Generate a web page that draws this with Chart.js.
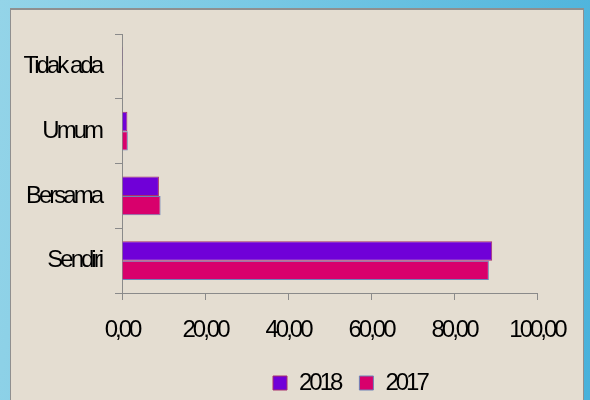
<!DOCTYPE html>
<html>
<head>
<meta charset="utf-8">
<script src="https://cdn.jsdelivr.net/npm/chart.js@4"></script>
<style>
  html, body { margin: 0; padding: 0; width: 590px; height: 400px; overflow: hidden; }
  body { background: linear-gradient(100deg, #94d4e8 0%, #78c8e4 40%, #48b1db 100%); position: relative; }
  #panel {
    position: absolute; left: 10px; top: 8px; width: 572px; height: 400px;
    background: #e4ddd1; border: 1px solid #8f8f8f; border-top-width: 2px; border-bottom: none;
  }
  #wrap { position: absolute; left: 0; top: 0; width: 590px; height: 400px; }
</style>
</head>
<body>
<div id="panel"></div>
<div id="wrap"><canvas id="c" width="590" height="400"></canvas></div>
<script>
// Categories (top to bottom) and percentages per year
const categories = ['Tidak ada', 'Umum', 'Bersama', 'Sendiri'];
const values2018 = [0.2, 1.3, 8.9, 89.2];
const values2017 = [0.2, 1.4, 9.3, 88.4];
const xTicks = [0, 20, 40, 60, 80, 100];

const FONT = { family: '"Liberation Sans", Arial, sans-serif', size: 24 };
const SPACING = '-3px';

// Tight letter spacing for all canvas text
const tightText = {
  id: 'tightText',
  beforeUpdate(chart) { chart.ctx.letterSpacing = SPACING; },
  beforeLayout(chart) { chart.ctx.letterSpacing = SPACING; },
  beforeDraw(chart) { chart.ctx.letterSpacing = SPACING; }
};

// Place the legend row below the value axis, starting under the 20,00 mark
const legendPlacement = {
  id: 'legendPlacement',
  afterLayout(chart) {
    const lg = chart.legend;
    const p = lg.options.labels.padding;
    const start = (lg.left + p + lg.right - lg.lineWidths[0]) / 2;
    const dx = 273 - start;
    lg.left += dx; lg.right += dx;
    const dy = 371 - (lg.top + p);
    lg.top += dy; lg.bottom += dy;
  }
};

new Chart(document.getElementById('c'), {
  type: 'bar',
  data: {
    labels: categories,
    datasets: [
      { label: '2018', data: values2018, backgroundColor: '#7000d8', borderColor: '#a8306c', borderWidth: 1 },
      { label: '2017', data: values2017, backgroundColor: '#d8006c', borderColor: '#6d82b8', borderWidth: 1 }
    ]
  },
  options: {
    indexAxis: 'y',
    responsive: false,
    animation: false,
    layout: { padding: { left: 0, right: 53, top: 34, bottom: 0 } },
    datasets: { bar: { categoryPercentage: 0.6, barPercentage: 1.0 } },
    scales: {
      x: {
        min: 0, max: 100,
        afterBuildTicks(scale) { scale.ticks = xTicks.map(v => ({ value: v })); },
        afterFit(scale) { scale.height = 54; },
        grid: { drawOnChartArea: false, drawTicks: true, tickLength: 7, color: '#8a8a8a' },
        border: { display: true, color: '#8a8a8a', width: 1 },
        ticks: {
          color: '#000', font: FONT, padding: 16, maxRotation: 0,
          callback: v => v.toFixed(2).replace('.', ',')
        }
      },
      y: {
        afterFit(scale) { scale.width = 122; },
        grid: { drawOnChartArea: false, drawTicks: true, tickLength: 7, color: '#8a8a8a', offset: true },
        border: { display: true, color: '#8a8a8a', width: 1 },
        ticks: { color: '#000', font: FONT, padding: 14 }
      }
    },
    plugins: {
      legend: {
        position: 'bottom',
        labels: { color: '#000', font: FONT, boxWidth: 14, boxHeight: 14, padding: 19 }
      },
      tooltip: { enabled: false }
    }
  },
  plugins: [tightText, legendPlacement]
});
</script>
</body>
</html>
